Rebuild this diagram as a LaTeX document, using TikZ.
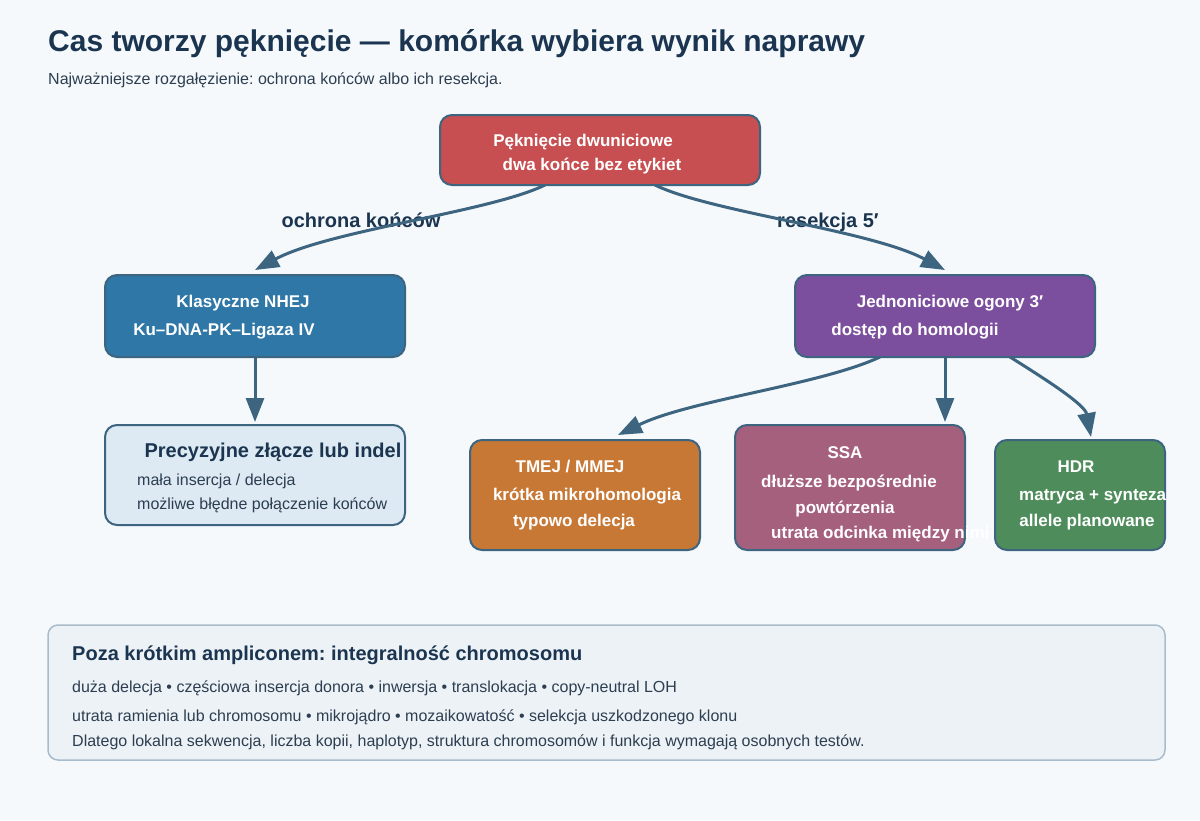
\documentclass[tikz,border=0pt]{standalone}
\usepackage{fontspec}
\setmainfont{Liberation Sans}
\usetikzlibrary{arrows.meta}
\frenchspacing
\definecolor{bg}{HTML}{F5F9FC}
\definecolor{navy}{HTML}{1B3550}
\definecolor{bodytxt}{HTML}{2C3E50}
\definecolor{edge}{HTML}{3D6580}
\definecolor{cred}{HTML}{C84F51}
\definecolor{cblue}{HTML}{2E77A6}
\definecolor{cpurple}{HTML}{7B4F9E}
\definecolor{clight}{HTML}{DDE9F3}
\definecolor{corange}{HTML}{C87835}
\definecolor{cmauve}{HTML}{A5607D}
\definecolor{cgreen}{HTML}{4E8D5B}
\definecolor{cpanel}{HTML}{EDF2F7}
\definecolor{cpanelborder}{HTML}{A9BCCB}
\tikzset{
  boxshape/.style={draw=edge, line width=2pt, rounded corners=12pt},
  wtxt/.style={text=white, font=\fontsize{17}{20}\selectfont\bfseries, anchor=base, inner sep=0pt},
  btxt/.style={text=bodytxt, font=\fontsize{16}{19}\selectfont, anchor=base west, inner sep=0pt},
  lbl/.style={text=navy, font=\fontsize{20}{24}\selectfont\bfseries, anchor=base, inner sep=0pt},
  conn/.style={draw=edge, line width=3pt, -{Triangle[length=24pt,width=18pt]}},
}
\begin{document}
\begin{tikzpicture}[x=1pt,y=-1pt]
\fill[bg] (0,0) rectangle (1200,820);
\useasboundingbox (0,0) rectangle (1200,820);

% title
\node[anchor=base west, inner sep=0pt, text=navy, font=\fontsize{30}{36}\selectfont\bfseries] (title) at (48,51) {Cas tworzy pęknięcie — komórka wybiera wynik naprawy};
\node[anchor=base west, inner sep=0pt, text=bodytxt, font=\fontsize{16}{19}\selectfont] (subtitle) at (48,84) {Najważniejsze rozgałęzienie: ochrona końców albo ich resekcja.};

% boxes
\draw[boxshape, fill=cred] (440,115) rectangle (760,185);
\node[wtxt] (t1) at (583,146) {Pęknięcie dwuniciowe};
\node[wtxt] (t2) at (592,170) {dwa końce bez etykiet};

\draw[boxshape, fill=cblue] (105,275) rectangle (405,357);
\node[wtxt] (n1) at (243,307) {Klasyczne NHEJ};
\node[wtxt] (n2) at (224,335) {Ku–DNA-PK–Ligaza IV};

\draw[boxshape, fill=cpurple] (795,275) rectangle (1095,357);
\node[wtxt] (r1) at (950,307) {Jednoniciowe ogony 3′};
\node[wtxt] (r2) at (915,335) {dostęp do homologii};

\draw[boxshape, fill=clight] (105,425) rectangle (405,525);
\node[lbl] (p1) at (273,457) {Precyzyjne złącze lub indel};
\node[btxt] (p2) at (137,485) {mała insercja / delecja};
\node[btxt] (p3) at (137,509) {możliwe błędne połączenie końców};

\draw[boxshape, fill=corange] (470,440) rectangle (700,550);
\node[wtxt] (m1) at (570,472) {TMEJ / MMEJ};
\node[wtxt] (m2) at (587,500) {krótka mikrohomologia};
\node[wtxt] (m3) at (574,526) {typowo delecja};

\draw[boxshape, fill=cmauve] (735,425) rectangle (965,550);
\node[wtxt] (s1) at (845,458) {SSA};
\node[wtxt] (s2) at (849,487) {dłuższe bezpośrednie};
\node[wtxt] (s3) at (845,513) {powtórzenia};
\node[wtxt, anchor=base west] (s4) at (771,538) {utrata odcinka między nimi};

\draw[boxshape, fill=cgreen] (995,440) rectangle (1165,550);
\node[wtxt] (h1) at (1076,472) {HDR};
\node[wtxt, anchor=base west] (h2) at (1019,500) {matryca + synteza};
\node[wtxt] (h3) at (1087,526) {allele planowane};

% branch labels
\node[lbl] (lab1) at (361,227) {ochrona końców};
\node[lbl] (lab2) at (828,227) {resekcja 5′};

% connector anchor points
\coordinate (topL) at (545,185);
\coordinate (topR) at (655,185);
\coordinate (nhejT) at (255,270);
\coordinate (nhejB) at (255,357);
\coordinate (precT) at (255,422);
\coordinate (resT) at (945,270);
\coordinate (resB1) at (880,357);
\coordinate (resB2) at (945,357);
\coordinate (resB3) at (1010,357);
\coordinate (tmejT) at (618,435);
\coordinate (ssaT) at (945,422);
\coordinate (hdrT) at (1091,437);

\draw[conn] (topL) .. controls (490,212) and (330,230) .. (nhejT);
\draw[conn] (topR) .. controls (710,212) and (870,230) .. (resT);
\draw[conn] (nhejB) -- (precT);
\draw[conn] (resB1) .. controls (820,385) and (690,400) .. (tmejT);
\draw[conn] (resB2) -- (ssaT);
\draw[conn] (resB3) .. controls (1050,382) and (1085,405) .. (hdrT);

% bottom panel
\draw[draw=cpanelborder, line width=1.5pt, fill=cpanel, rounded corners=10pt] (48,625) rectangle (1165,760);
\node[lbl, anchor=base west] (b1) at (72,660) {Poza krótkim ampliconem: integralność chromosomu};
\node[btxt] (b2) at (72,692) {duża delecja • częściowa insercja donora • inwersja • translokacja • copy-neutral LOH};
\node[btxt] (b3) at (72,721) {utrata ramienia lub chromosomu • mikrojądro • mozaikowatość • selekcja uszkodzonego klonu};
\node[btxt] (b4) at (72,746) {Dlatego lokalna sekwencja, liczba kopii, haplotyp, struktura chromosomów i funkcja wymagają osobnych testów.};
\end{tikzpicture}
\end{document}
